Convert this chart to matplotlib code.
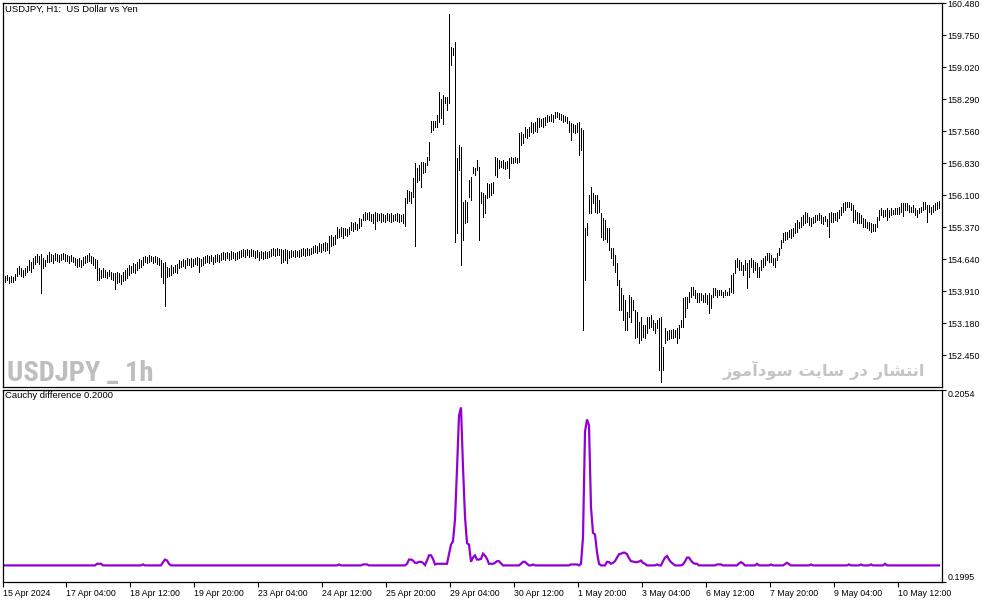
import matplotlib
matplotlib.use('Agg')
import matplotlib.pyplot as plt
import numpy as np

# ---------------- data ----------------
bar_high = [
154.31,154.26,154.29,154.24,154.26,154.24,154.31,154.45,154.49,154.45,
154.40,154.45,154.49,154.63,154.58,154.68,154.72,154.77,154.72,154.77,
154.68,154.63,154.74,154.81,154.77,154.74,154.79,154.77,154.74,154.77,
154.79,154.77,154.74,154.72,154.74,154.70,154.67,154.65,154.67,154.63,
154.70,154.72,154.74,154.79,154.72,154.70,154.65,154.63,154.45,154.40,
154.45,154.40,154.36,154.40,154.36,154.33,154.33,154.36,154.33,154.29,
154.36,154.40,154.45,154.51,154.49,154.56,154.54,154.58,154.65,154.63,
154.70,154.72,154.70,154.74,154.72,154.70,154.72,154.70,154.67,154.63,
154.56,154.58,154.47,154.45,154.51,154.47,154.51,154.54,154.63,154.60,
154.65,154.63,154.67,154.65,154.67,154.65,154.67,154.70,154.67,154.65,
154.70,154.72,154.74,154.72,154.74,154.70,154.74,154.77,154.74,154.79,
154.81,154.79,154.81,154.79,154.83,154.81,154.79,154.81,154.83,154.86,
154.88,154.86,154.88,154.86,154.88,154.86,154.83,154.86,154.81,154.83,
154.81,154.83,154.81,154.83,154.88,154.90,154.88,154.90,154.88,154.88,
154.86,154.88,154.86,154.83,154.86,154.83,154.86,154.83,154.86,154.88,
154.90,154.88,154.90,154.88,154.90,154.95,154.97,154.95,155.02,154.99,
155.02,155.04,155.02,155.18,155.20,155.15,155.20,155.38,155.34,155.38,
155.36,155.36,155.34,155.38,155.50,155.47,155.50,155.45,155.59,155.56,
155.68,155.72,155.70,155.72,155.68,155.68,155.72,155.70,155.68,155.70,
155.68,155.66,155.70,155.68,155.70,155.66,155.68,155.70,155.68,155.66,
155.68,156.05,156.23,156.20,156.18,156.50,156.84,156.73,156.80,156.86,
156.86,156.84,156.98,157.32,157.80,157.80,157.80,157.94,158.46,158.30,
158.39,158.35,158.35,160.24,159.49,159.46,159.60,156.96,157.25,157.21,
155.95,156.00,155.95,156.45,156.52,156.75,156.73,156.91,156.75,156.18,
156.16,156.10,156.39,156.36,156.39,156.41,156.98,156.95,156.91,156.89,
156.91,156.86,156.89,156.95,156.98,156.96,156.98,156.95,157.53,157.55,
157.50,157.66,157.62,157.66,157.78,157.75,157.78,157.87,157.87,157.85,
157.87,157.90,157.94,157.92,157.96,157.94,158.00,158.00,157.98,157.96,
157.94,157.92,157.90,157.80,157.75,157.73,157.70,157.75,157.78,157.64,
157.59,155.36,155.47,156.11,156.29,156.16,156.11,156.11,156.00,155.70,
155.59,155.54,155.36,155.36,154.90,154.90,154.74,154.56,154.17,153.99,
153.83,153.72,153.44,153.83,153.79,153.72,153.49,153.44,153.21,153.33,
153.15,153.15,153.33,153.33,153.37,153.26,153.19,153.26,153.31,153.33,
152.64,153.08,153.00,153.03,153.03,153.05,153.03,153.08,153.15,153.26,
153.76,153.79,153.79,153.90,154.01,154.01,153.94,153.88,153.88,153.88,
153.83,153.88,153.83,153.88,153.83,153.99,153.99,153.94,153.94,153.94,
153.90,153.94,153.90,153.99,154.29,154.33,154.63,154.67,154.63,154.58,
154.51,154.63,154.56,154.63,154.67,154.63,154.58,154.56,154.47,154.63,
154.67,154.72,154.79,154.79,154.74,154.67,154.67,154.79,154.90,155.08,
155.24,155.27,155.27,155.31,155.33,155.36,155.47,155.54,155.50,155.61,
155.66,155.72,155.70,155.61,155.59,155.61,155.66,155.66,155.70,155.66,
155.61,155.63,155.56,155.70,155.72,155.70,155.70,155.72,155.77,155.84,
155.93,155.95,155.95,155.95,155.93,155.88,155.77,155.72,155.70,155.66,
155.59,155.56,155.50,155.50,155.47,155.45,155.45,155.61,155.77,155.82,
155.77,155.77,155.82,155.77,155.82,155.77,155.82,155.82,155.84,155.93,
155.93,155.93,155.93,155.88,155.84,155.88,155.82,155.77,155.82,155.84,
155.95,155.95,155.88,155.88,155.84,155.88,155.93,155.95,155.97,
]

bar_low = [
154.15,154.13,154.17,154.10,154.13,154.13,154.17,154.26,154.31,154.26,
154.24,154.29,154.36,154.40,154.36,154.45,154.54,154.58,154.54,153.88,
154.45,154.49,154.58,154.58,154.60,154.56,154.63,154.60,154.58,154.63,
154.65,154.60,154.60,154.56,154.60,154.58,154.51,154.47,154.49,154.47,
154.51,154.56,154.58,154.60,154.56,154.51,154.45,154.17,154.17,154.22,
154.24,154.24,154.22,154.26,154.20,154.17,153.97,154.10,154.13,154.08,
154.15,154.17,154.22,154.29,154.33,154.36,154.33,154.40,154.45,154.47,
154.51,154.58,154.56,154.58,154.60,154.56,154.58,154.54,154.51,154.24,
154.10,153.58,154.24,154.26,154.29,154.33,154.36,154.33,154.45,154.47,
154.49,154.45,154.51,154.51,154.47,154.49,154.54,154.51,154.36,154.49,
154.51,154.56,154.58,154.56,154.60,154.54,154.58,154.60,154.58,154.63,
154.65,154.63,154.67,154.63,154.65,154.67,154.63,154.65,154.67,154.70,
154.72,154.70,154.74,154.70,154.72,154.72,154.67,154.70,154.63,154.67,
154.65,154.67,154.67,154.70,154.72,154.74,154.72,154.74,154.74,154.56,
154.58,154.63,154.56,154.67,154.70,154.72,154.70,154.72,154.70,154.72,
154.74,154.72,154.74,154.74,154.77,154.79,154.81,154.79,154.83,154.81,
154.86,154.83,154.86,154.79,154.95,154.97,154.99,155.13,155.15,155.18,
155.13,155.20,155.18,155.22,155.31,155.29,155.34,155.31,155.36,155.40,
155.54,155.54,155.56,155.54,155.52,155.47,155.34,155.52,155.54,155.50,
155.52,155.50,155.54,155.52,155.50,155.52,155.54,155.52,155.50,155.52,
155.47,155.40,155.93,155.98,155.93,156.07,154.95,156.41,156.45,156.29,
156.61,156.63,156.80,156.91,157.55,157.59,157.66,157.66,157.78,157.87,
157.73,158.21,158.05,158.21,159.08,159.30,155.04,155.24,156.68,154.51,
155.08,155.47,155.50,156.07,156.00,156.61,156.57,156.68,155.08,155.93,
155.61,155.70,156.05,156.07,156.10,156.16,156.57,156.52,156.73,156.75,
156.73,156.70,156.72,156.50,156.84,156.84,156.86,156.84,156.86,157.25,
157.30,157.43,157.40,157.45,157.55,157.53,157.57,157.55,157.66,157.68,
157.66,157.70,157.78,157.80,157.80,157.78,157.87,157.89,157.85,157.82,
157.78,157.80,157.75,157.55,157.37,157.55,157.53,157.55,157.02,157.14,
153.03,154.17,155.20,155.70,155.70,155.93,155.72,155.70,155.72,155.15,
155.08,155.10,155.04,154.86,154.67,154.51,154.36,154.06,153.49,153.49,
153.26,153.03,153.03,153.33,153.21,153.49,152.85,152.87,152.74,152.80,
152.87,152.85,152.96,153.08,153.10,153.03,152.96,153.08,152.12,151.85,
152.12,152.74,152.80,152.82,152.85,152.85,152.87,152.74,152.85,153.10,
153.10,153.33,153.53,153.67,153.79,153.83,153.76,153.67,153.67,153.72,
153.67,153.67,153.62,153.42,153.53,153.79,153.83,153.79,153.83,153.83,
153.79,153.83,153.83,153.83,153.90,153.88,154.33,154.47,154.40,154.40,
154.29,154.40,153.99,154.24,154.47,154.36,154.40,154.24,154.24,154.40,
154.47,154.51,154.63,154.58,154.58,154.51,154.47,154.63,154.74,154.90,
155.04,155.08,155.10,155.15,155.13,155.17,155.24,155.27,155.36,155.38,
155.43,155.47,155.50,155.43,155.40,155.47,155.50,155.54,155.54,155.47,
155.45,155.52,155.40,155.15,155.50,155.50,155.54,155.52,155.59,155.66,
155.72,155.77,155.84,155.84,155.77,155.50,155.54,155.47,155.47,155.47,
155.38,155.38,155.36,155.31,155.27,155.29,155.29,155.38,155.54,155.66,
155.61,155.63,155.54,155.61,155.66,155.68,155.68,155.68,155.68,155.72,
155.63,155.77,155.77,155.72,155.72,155.72,155.66,155.61,155.70,155.72,
155.77,155.79,155.50,155.72,155.68,155.72,155.77,155.79,155.82,
]

# Cauchy difference indicator: flat level 0.2000 with these deviations (bar index, value)
cauchy_level = 0.2000
cauchy_points = [
(47,0.20005),(48,0.20005),(49,0.20005),(70,0.20003),
(80,0.20010),(81,0.20018),(82,0.20015),(83,0.20005),
(168,0.20003),(180,0.20003),(181,0.20003),(182,0.20003),
(202,0.20005),(203,0.20018),(204,0.20018),(205,0.20015),(206,0.20008),(207,0.20008),
(208,0.20011),(209,0.20011),(210,0.20008),(211,0.20001),
(212,0.20015),(213,0.20031),(214,0.20031),(215,0.20020),(216,0.20003),(217,0.20005),
(218,0.20005),(219,0.20005),(220,0.20005),(221,0.20005),(222,0.20005),
(223,0.20034),(224,0.20064),(225,0.20074),(226,0.20141),(227,0.20295),(228,0.20460),
(229,0.20485),(230,0.20301),(231,0.20150),(232,0.20068),(233,0.20064),(234,0.20011),
(235,0.20024),(236,0.20031),(237,0.20018),(238,0.20018),(239,0.20020),(240,0.20036),
(241,0.20030),(242,0.20020),(243,0.20005),(244,0.20005),(245,0.20005),(246,0.20008),
(247,0.20013),(248,0.20013),(249,0.20006),
(259,0.20005),(260,0.20011),(261,0.20011),(262,0.20005),(265,0.20003),
(284,0.20003),(285,0.20003),(286,0.20003),(287,0.20003),
(289,0.20005),(290,0.20086),(291,0.20410),(292,0.20448),(293,0.20430),(294,0.20178),
(295,0.20100),(296,0.20095),(297,0.20040),(298,0.20005),
(302,0.20011),(303,0.20010),(304,0.20005),(305,0.20008),(306,0.20013),(307,0.20024),
(308,0.20034),(309,0.20036),(310,0.20039),(311,0.20039),(312,0.20034),(313,0.20022),
(314,0.20013),(315,0.20012),(316,0.20010),(317,0.20010),(318,0.20012),(319,0.20015),
(320,0.20008),(321,0.20005),(327,0.20003),
(330,0.20013),(331,0.20024),(332,0.20029),(333,0.20018),(334,0.20010),(335,0.20005),
(340,0.20003),(341,0.20012),(342,0.20024),(343,0.20024),(344,0.20015),(345,0.20008),
(346,0.20005),(347,0.20005),(357,0.20003),(358,0.20003),(359,0.20003),
(368,0.20006),(369,0.20010),(370,0.20006),(377,0.20005),(384,0.20003),
(391,0.20004),(392,0.20008),(393,0.20004),(404,0.20003),
(423,0.20003),(429,0.20003),(434,0.20003),(441,0.20005),
]

price_ticks = [160.480, 159.750, 159.020, 158.290, 157.560, 156.830, 156.100,
               155.370, 154.640, 153.910, 153.180, 152.450]
ind_ticks = [0.1995, 0.2054]
time_tick_bars = [0, 31.5, 63.5, 95.5, 127.5, 159.5, 191.5, 223.5, 255.5, 287.5,
                  319.5, 351.5, 383.5, 415.5, 447.5]
time_tick_labels = ["15 Apr 2024", "17 Apr 04:00", "18 Apr 12:00", "19 Apr 20:00",
                    "23 Apr 04:00", "24 Apr 12:00", "25 Apr 20:00", "29 Apr 04:00",
                    "30 Apr 12:00", "1 May 20:00", "3 May 04:00", "6 May 12:00",
                    "7 May 20:00", "9 May 04:00", "10 May 12:00"]

title_text = "USDJPY, H1:  US Dollar vs Yen"
ind_title = "Cauchy difference 0.2000"
wm_symbol = "USDJPY _ 1h"
wm_site = "انتشار در سایت سودآموز"

# ---------------- simple Persian shaping (presentation forms, visual order) ----------------
FORMS = {  # isolated, final, initial, medial
    '\u0627': ('\uFE8D', '\uFE8E', None, None),
    '\u0622': ('\uFE81', '\uFE82', None, None),
    '\u062F': ('\uFEA9', '\uFEAA', None, None),
    '\u0631': ('\uFEAD', '\uFEAE', None, None),
    '\u0632': ('\uFEAF', '\uFEB0', None, None),
    '\u0648': ('\uFEED', '\uFEEE', None, None),
    '\u0646': ('\uFEE5', '\uFEE6', '\uFEE7', '\uFEE8'),
    '\u062A': ('\uFE95', '\uFE96', '\uFE97', '\uFE98'),
    '\u0634': ('\uFEB5', '\uFEB6', '\uFEB7', '\uFEB8'),
    '\u0633': ('\uFEB1', '\uFEB2', '\uFEB3', '\uFEB4'),
    '\u0645': ('\uFEE1', '\uFEE2', '\uFEE3', '\uFEE4'),
    '\u06CC': ('\uFBFC', '\uFBFD', '\uFBFE', '\uFBFF'),
}

def shape_rtl(s):
    out = []
    for k, ch in enumerate(s):
        if ch not in FORMS:
            out.append(ch)
            continue
        f = FORMS[ch]
        prev = s[k - 1] if k > 0 else ''
        nxt = s[k + 1] if k + 1 < len(s) else ''
        jp = prev in FORMS and FORMS[prev][2] is not None
        jn = (nxt in FORMS) and f[2] is not None
        if jp and jn:
            out.append(f[3])
        elif jp:
            out.append(f[1])
        elif jn:
            out.append(f[2])
        else:
            out.append(f[0])
    return ''.join(reversed(out))

# ---------------- plotting ----------------
plt.rcParams['font.family'] = ['Liberation Sans', 'DejaVu Sans']

W, H = 994, 603
fig = plt.figure(figsize=(W / 100, H / 100), dpi=100)
fig.patch.set_facecolor('white')

ax1 = fig.add_axes([2.5 / W, 1 - 387 / H, 939 / W, 384.5 / H])
ax2 = fig.add_axes([2.5 / W, 1 - 581.7 / H, 939 / W, 192.2 / H])

n = len(bar_high)
xs = np.arange(n)
ax1.vlines(xs, bar_low, bar_high, color='black', linewidth=0.72, antialiased=False, zorder=3)
ax1.set_xlim(-0.25, 469.25)
ax1.set_ylim(151.731, 160.502)
ax1.set_xticks([])
ax1.yaxis.tick_right()
ax1.set_yticks(price_ticks)
ax1.set_yticklabels([f"{p:.3f}" for p in price_ticks])
ax1.tick_params(axis='y', direction='out', length=3, width=0.8, pad=1.2, labelsize=6.4)

cauchy = np.full(n, cauchy_level)
for i, v in cauchy_points:
    cauchy[i] = v
ax2.plot(xs, cauchy, color='#9400D3', linewidth=1.6, solid_joinstyle='miter')
ax2.set_xlim(-0.25, 469.25)
ax2.set_ylim(0.1995, 0.2054)
ax2.yaxis.tick_right()
ax2.set_yticks(ind_ticks)
ax2.set_yticklabels([f"{v:.4f}" for v in ind_ticks])
ax2.tick_params(axis='y', direction='out', length=3, width=0.8, pad=1.2, labelsize=6.4)
ax2.set_xticks(time_tick_bars)
ax2.set_xticklabels(time_tick_labels)
ax2.tick_params(axis='x', direction='out', length=3.5, width=0.8, pad=1.5, labelsize=6.3)
for lbl in ax2.get_xticklabels():
    lbl.set_horizontalalignment('left')
labs = ax2.get_yticklabels()
for lbl in labs:
    if lbl.get_text() == '0.2054':
        lbl.set_verticalalignment('top')
    else:
        lbl.set_verticalalignment('bottom')

for ax in (ax1, ax2):
    for sp in ax.spines.values():
        sp.set_color('black')
        sp.set_linewidth(0.9)

# texts
fig.text(5 / W, 1 - 4.5 / H, title_text, ha='left', va='top', fontsize=6.8, color='black')
fig.text(5 / W, 1 - 391 / H, ind_title, ha='left', va='top', fontsize=6.8, color='black')

ax1.text((7 - 2.5) / 939, 6 / 384.5, wm_symbol, transform=ax1.transAxes,
         ha='left', va='baseline', fontsize=20.5, fontweight='bold', color='#BEBEBE',
         family=['Liberation Sans Narrow', 'Roboto Condensed', 'DejaVu Sans Condensed', 'DejaVu Sans'],
         zorder=1)
ax1.text((925 - 2.5) / 939, 11 / 384.5, shape_rtl(wm_site), transform=ax1.transAxes,
         ha='right', va='baseline', fontsize=11.8, fontweight='bold', color='#C4C4C4',
         family=['DejaVu Sans'], zorder=1)

fig.savefig('out.png', dpi=100, facecolor='white')
